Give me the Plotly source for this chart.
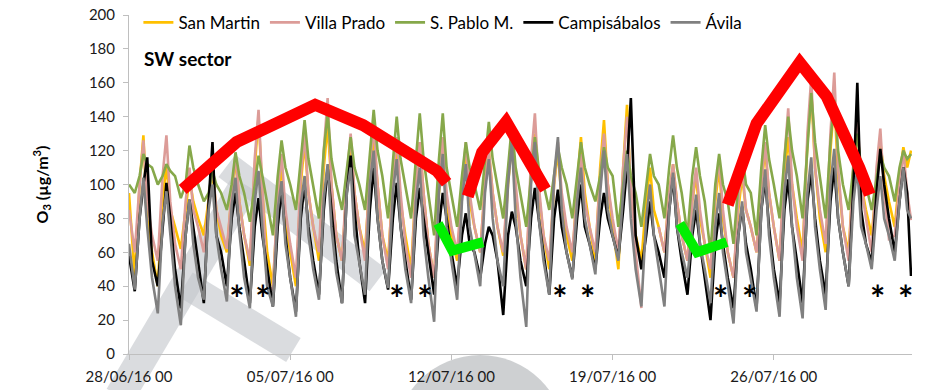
import pandas as pd
import plotly.graph_objects as go

# ---- hourly ozone (µg/m3), sampled at the listed hours of each day ----
DAYS = pd.date_range("2016-06-28", "2016-07-31", freq="D")
HOURS = [0, 6, 11, 15, 19]
END_TIME = "2016-07-31 23:00"

san_martin = [
    [95, 45, 100, 129, 80], [60, 40, 90, 112, 85], [75, 62, 85, 104, 90], [80, 70, 90, 108, 85],
    [70, 60, 95, 115, 90], [70, 52, 110, 140, 95], [60, 40, 90, 112, 80], [60, 40, 100, 125, 95],
    [75, 55, 110, 135, 100], [70, 55, 100, 125, 95], [75, 60, 105, 130, 100], [70, 55, 100, 122, 90],
    [70, 50, 100, 125, 95], [65, 45, 95, 120, 90], [70, 55, 95, 118, 90], [75, 60, 100, 120, 95],
    [75, 58, 100, 125, 95], [70, 50, 105, 130, 95], [70, 50, 100, 120, 90], [70, 55, 100, 128, 95],
    [75, 55, 110, 138, 100], [75, 50, 110, 147, 95], [70, 55, 90, 110, 85], [75, 60, 95, 112, 90],
    [70, 55, 90, 105, 80], [65, 45, 90, 110, 80], [60, 45, 85, 105, 85], [75, 60, 100, 120, 95],
    [75, 55, 105, 128, 100], [80, 60, 125, 155, 110], [80, 60, 120, 150, 105], [75, 60, 110, 135, 100],
    [85, 70, 100, 125, 105], [90, 75, 105, 122, 110],
]
san_martin_end = 120

villa_prado = [
    [85, 60, 100, 126, 90], [70, 55, 105, 129, 90], [65, 50, 90, 110, 85], [75, 60, 90, 112, 85],
    [75, 62, 95, 118, 90], [70, 55, 115, 144, 95], [40, 38, 95, 118, 85], [65, 45, 105, 130, 95],
    [75, 60, 120, 151, 100], [70, 55, 105, 130, 95], [75, 55, 110, 135, 100], [70, 50, 105, 128, 95],
    [65, 45, 100, 125, 95], [65, 45, 105, 128, 95], [75, 60, 100, 125, 95], [75, 60, 100, 120, 95],
    [75, 60, 105, 132, 100], [70, 50, 115, 142, 100], [70, 55, 100, 125, 95], [75, 60, 95, 118, 90],
    [75, 60, 105, 130, 100], [80, 60, 110, 140, 100], [60, 27, None, None, None], [75, 60, 95, 112, 90],
    [70, 55, 90, 110, 85], [65, 50, 95, 115, 85], [60, 45, 90, 110, 85], [75, 60, 100, 125, 95],
    [75, 55, 115, 145, 100], [75, 55, 130, 163, 110], [85, 65, 130, 166, 110], [75, 55, 115, 141, 100],
    [80, 60, 110, 133, 95], [68, 70, 100, 120, 95],
]
villa_prado_end = 79

san_pablo = [
    [100, 95, 105, 118, 112], [110, 100, 105, 112, 108], [105, 92, 100, 123, 110], [100, 90, 95, 108, 100],
    [95, 85, 100, 119, 105], [95, 78, 100, 117, 105], [90, 70, 105, 126, 110], [100, 85, 115, 138, 115],
    [100, 80, 120, 142, 115], [100, 85, 110, 128, 110], [100, 85, 120, 144, 120], [105, 80, 115, 140, 115],
    [100, 80, 115, 142, 115], [95, 70, 115, 142, 110], [95, 75, 105, 125, 110], [100, 85, 115, 137, 115],
    [100, 80, 110, 135, 110], [95, 75, 105, 128, 110], [100, 85, 105, 122, 110], [100, 80, 105, 125, 110],
    [100, 90, 105, 122, 110], [105, 75, 100, 120, 105], [95, 75, 100, 118, 105], [100, 80, 110, 129, 110],
    [95, 70, 105, 122, 105], [90, 60, 100, 118, 100], [90, 65, 100, 118, 100], [95, 70, 110, 135, 115],
    [100, 80, 115, 140, 120], [105, 80, 125, 154, 125], [105, 80, 125, 150, 120], [100, 85, 110, 130, 110],
    [100, 85, 105, 118, 110], [105, 90, 110, 120, 115],
]
san_pablo_end = 118

campisabalos = [
    [58, 37, 80, 100, 116], [55, 40, 75, 101, 80], [50, 27, 70, 91, 75], [55, 30, 90, 125, 70],
    [60, 40, 80, 95, 75], [55, 30, 75, 92, 70], [50, 28, 75, 97, 70], [45, 25, 80, 100, 75],
    [55, 35, 85, 110, 85], [55, 30, 95, 117, 85], [55, 30, 85, 110, 80], [55, 38, 80, 101, 75],
    [55, 32, 80, 98, 80], [60, 35, 75, 95, 80], [60, 40, 70, 83, 65], [60, 45, 65, 75, 70],
    [55, 23, 70, 84, 75], [55, 40, 80, 98, 80], [60, 35, 80, 97, 75], [60, 45, 80, 100, 75],
    [65, 50, 80, 95, 80], [70, 57, 85, 110, 151], [70, 50, 70, 90, 70], [60, 45, 85, 104, 75],
    [55, 35, 70, 85, 65], [45, 20, 65, 83, 65], [45, 27, 70, 87, 65], [50, 27, 85, 103, 75],
    [50, 30, 85, 103, 75], [55, 30, 90, 107, 80], [55, 35, 90, 110, 80], [60, 40, 100, 160, 85],
    [65, 54, 95, 121, 100], [80, 60, 90, 110, 95],
]
campisabalos_end = 46

avila = [
    [65, 38, 80, 104, 75], [45, 24, 78, 96, 70], [40, 17, 70, 91, 65], [45, 32, 85, 100, 70],
    [50, 31, 88, 104, 72], [45, 27, 90, 108, 75], [40, 28, 85, 102, 65], [45, 22, 88, 105, 70],
    [50, 32, 92, 112, 75], [48, 30, 95, 110, 70], [55, 35, 100, 120, 80], [55, 39, 95, 115, 75],
    [50, 30, 90, 110, 70], [45, 19, 95, 118, 75], [55, 32, 90, 112, 75], [60, 40, 95, 115, 80],
    [55, 40, 100, 125, 80], [45, 16, 100, 125, 80], [55, 35, 105, 128, 85], [60, 44, 90, 110, 80],
    [65, 47, 95, 120, 85], [70, 55, 95, 118, 80], [50, 28, 80, 100, 70], [50, 28, 85, 107, 75],
    [60, 45, 75, 94, 65], [50, 30, 75, 95, 60], [40, 18, 70, 90, 60], [45, 25, 85, 109, 70],
    [45, 22, 95, 117, 75], [45, 21, 95, 116, 75], [50, 26, 100, 121, 80], [60, 40, 90, 110, 75],
    [65, 50, 85, 105, 80], [70, 55, 90, 110, 85],
]
avila_end = 80

# ---- trend segments drawn over the series ----
red_trends = [
    (["2016-06-30 08:00", "2016-07-02 16:00", "2016-07-06 02:00", "2016-07-08 04:00",
      "2016-07-11 09:00", "2016-07-11 19:00"],
     [97, 125, 147, 135, 108, 101]),
    (["2016-07-12 17:00", "2016-07-13 08:00", "2016-07-14 09:00", "2016-07-16 02:00"],
     [93, 119, 137, 97]),
    (["2016-07-24 00:00", "2016-07-25 06:00", "2016-07-27 03:00", "2016-07-28 07:00",
      "2016-07-29 17:00", "2016-07-30 04:00"],
     [88, 136, 172, 152, 110, 94]),
]
green_trends = [
    (["2016-07-11 10:00", "2016-07-12 01:00", "2016-07-13 09:00"], [77, 61, 66]),
    (["2016-07-21 22:00", "2016-07-22 16:00", "2016-07-23 23:00"], [77, 60, 66]),
]

star_times = ["2016-07-02 16:30", "2016-07-03 19:40", "2016-07-09 15:10", "2016-07-10 20:20",
              "2016-07-16 17:00", "2016-07-17 22:00", "2016-07-23 16:40", "2016-07-24 22:50",
              "2016-07-30 12:15", "2016-07-31 17:20"]
star_level = 30

tick_vals = ["2016-06-28", "2016-07-05", "2016-07-12", "2016-07-19", "2016-07-26"]
tick_text = ["28/06/16 00", "05/07/16 00", "12/07/16 00", "19/07/16 00", "26/07/16 00"]

times = [d + pd.Timedelta(hours=h) for d in DAYS for h in HOURS] + [pd.Timestamp(END_TIME)]


def flat(rows, end):
    return [v for r in rows for v in r] + [end]


series = [
    ("San Martin", san_martin, san_martin_end, "#FFC000"),
    ("Villa Prado", villa_prado, villa_prado_end, "#DC9C98"),
    ("S. Pablo M.", san_pablo, san_pablo_end, "#86A84A"),
    ("Campisábalos", campisabalos, campisabalos_end, "#000000"),
    ("Ávila", avila, avila_end, "#808080"),
]

FONT = "Lato"
fig = go.Figure()

for name, rows, end, color in series:
    fig.add_trace(go.Scatter(x=times, y=flat(rows, end), mode="lines", name=name,
                             line=dict(color=color, width=2.6)))

for tx, ty in red_trends:
    fig.add_trace(go.Scatter(x=tx, y=ty, mode="lines", showlegend=False, hoverinfo="skip",
                             line=dict(color="#FF0000", width=12)))
for tx, ty in green_trends:
    fig.add_trace(go.Scatter(x=tx, y=ty, mode="lines", showlegend=False, hoverinfo="skip",
                             line=dict(color="#00F000", width=10)))

fig.add_trace(go.Scatter(x=star_times, y=[star_level] * len(star_times), mode="text",
                         text=["<b>*</b>"] * len(star_times), textposition="middle center",
                         textfont=dict(family=FONT, size=36, color="#000000"),
                         showlegend=False, hoverinfo="skip"))

# faint background emblem
band = "rgba(196,199,203,0.62)"
shapes = [
    dict(type="line", xref="paper", yref="paper", x0=-0.012, y0=-0.125, x1=0.148, y1=0.50,
         line=dict(color=band, width=30), layer="below"),
    dict(type="line", xref="paper", yref="paper", x0=0.072, y0=0.205, x1=0.210, y1=0.012,
         line=dict(color=band, width=28), layer="below"),
    dict(type="line", xref="paper", yref="paper", x0=0.125, y0=0.555, x1=0.318, y1=0.218,
         line=dict(color=band, width=28), layer="below"),
    dict(type="circle", xref="paper", yref="paper", x0=0.340, y0=-0.50, x1=0.557, y1=-0.003,
         fillcolor="rgba(190,192,195,0.75)", line=dict(width=0), layer="below"),
]

fig.add_annotation(text="<b>SW sector</b>", xref="paper", yref="paper", x=0.017, y=0.873,
                   xanchor="left", yanchor="middle", showarrow=False,
                   font=dict(family=FONT, size=19, color="#000000"))

fig.update_layout(
    width=935, height=390,
    margin=dict(l=129, r=23, t=15, b=36, autoexpand=False),
    paper_bgcolor="white", plot_bgcolor="rgba(0,0,0,0)",
    font=dict(family=FONT, size=15, color="#1a1a1a"),
    shapes=shapes,
    showlegend=True,
    legend=dict(orientation="h", x=0.012, xanchor="left", y=0.977, yanchor="middle",
                font=dict(family=FONT, size=17, color="#000000"), bgcolor="rgba(0,0,0,0)",
                itemwidth=30, traceorder="normal"),
    xaxis=dict(type="date", range=["2016-06-28 00:00", "2016-08-01 00:00"],
               tickvals=tick_vals, ticktext=tick_text, ticks="outside", ticklen=5,
               tickcolor="#BFBFBF", showline=True, linecolor="#BFBFBF", linewidth=1,
               showgrid=False, zeroline=False, ticklabelstandoff=4, automargin=False,
               tickfont=dict(family=FONT, size=15, color="#1a1a1a")),
    yaxis=dict(range=[0, 200], dtick=20, ticks="outside", ticklen=5, tickcolor="#BFBFBF",
               showline=True, linecolor="#BFBFBF", linewidth=1, showgrid=False, zeroline=False,
               ticklabelstandoff=5, automargin=False,
               tickfont=dict(family=FONT, size=15, color="#1a1a1a"),
               title=dict(text="<b>O<sub>3</sub> (µg/m<sup>3</sup>)</b>", standoff=36,
                          font=dict(family=FONT, size=16, color="#000000"))),
)

fig.write_html("out.html")
